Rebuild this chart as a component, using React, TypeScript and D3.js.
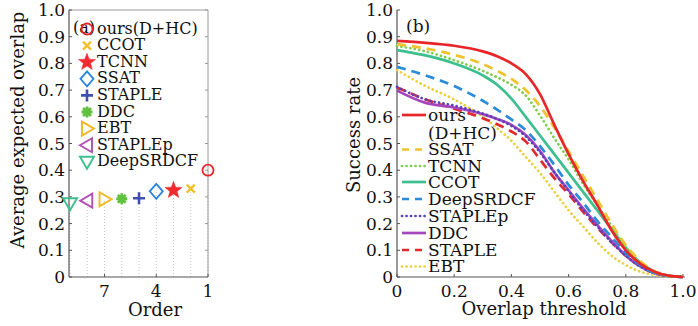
import React from "react";
import * as d3 from "d3";

// ---------- Data ----------
const trackersA = ["ours(D+HC)", "CCOT", "TCNN", "SSAT", "STAPLE", "DDC", "EBT", "STAPLEp", "DeepSRDCF"];
const ordersA = [1, 2, 3, 4, 5, 6, 7, 8, 9];
const eaoA = [0.40, 0.331, 0.325, 0.321, 0.295, 0.293, 0.291, 0.286, 0.276];
const markerA = ["circle", "x", "star", "diamond", "plus", "asterisk", "triR", "triL", "triD"];
const colorA = ["#e8262a", "#f0c028", "#f02a2e", "#2a84dc", "#3f4fb0", "#5fc23e", "#f2b822", "#b24fb4", "#3fc08e"];

const yTicks = [0, 0.1, 0.2, 0.3, 0.4, 0.5, 0.6, 0.7, 0.8, 0.9, 1.0];
const yTickLabels = ["0", "0.1", "0.2", "0.3", "0.4", "0.5", "0.6", "0.7", "0.8", "0.9", "1.0"];
const orderTicks = [7, 4, 1];
const xTicksB = [0, 0.2, 0.4, 0.6, 0.8, 1.0];
const xTickLabelsB = ["0", "0.2", "0.4", "0.6", "0.8", "1.0"];

const thresholds = [0, 0.1, 0.2, 0.3, 0.35, 0.4, 0.45, 0.5, 0.55, 0.6, 0.65, 0.7, 0.75, 0.8, 0.85, 0.9, 0.95, 1.0];
const oursS = [0.884, 0.877, 0.866, 0.845, 0.827, 0.80, 0.76, 0.685, 0.57, 0.46, 0.36, 0.27, 0.175, 0.10, 0.05, 0.02, 0.005, 0];
const ssatS = [0.872, 0.856, 0.832, 0.797, 0.772, 0.742, 0.70, 0.64, 0.56, 0.47, 0.38, 0.29, 0.20, 0.12, 0.06, 0.022, 0.005, 0];
const tcnnS = [0.865, 0.845, 0.812, 0.772, 0.748, 0.72, 0.68, 0.605, 0.52, 0.44, 0.35, 0.27, 0.19, 0.112, 0.055, 0.02, 0.005, 0];
const ccotS = [0.85, 0.83, 0.80, 0.755, 0.72, 0.668, 0.60, 0.53, 0.46, 0.39, 0.32, 0.25, 0.18, 0.11, 0.055, 0.02, 0.005, 0];
const deepS = [0.787, 0.755, 0.715, 0.66, 0.627, 0.59, 0.55, 0.49, 0.42, 0.345, 0.28, 0.21, 0.15, 0.09, 0.045, 0.015, 0.004, 0];
const staplepS = [0.712, 0.665, 0.642, 0.612, 0.592, 0.566, 0.527, 0.467, 0.392, 0.322, 0.252, 0.19, 0.13, 0.08, 0.04, 0.015, 0.004, 0];
const ddcS = [0.698, 0.652, 0.635, 0.61, 0.592, 0.57, 0.532, 0.472, 0.392, 0.325, 0.258, 0.195, 0.135, 0.08, 0.04, 0.015, 0.004, 0];
const stapleS = [0.71, 0.665, 0.63, 0.595, 0.572, 0.545, 0.508, 0.44, 0.37, 0.31, 0.245, 0.185, 0.13, 0.08, 0.04, 0.015, 0.004, 0];
const ebtS = [0.775, 0.715, 0.665, 0.60, 0.557, 0.51, 0.45, 0.39, 0.32, 0.25, 0.19, 0.13, 0.08, 0.045, 0.02, 0.008, 0.002, 0];

const seriesValuesB = [oursS, ssatS, tcnnS, ccotS, deepS, staplepS, ddcS, stapleS, ebtS];
const seriesColorB = ["#e8262a", "#f0c22e", "#7ccf48", "#3dbf8f", "#2a8bd9", "#5a3fb8", "#a447bf", "#e02a2e", "#e9d03e"];
const seriesStyleB = ["solid", "dash", "dot", "solid", "dash", "dot", "solid", "dash", "dot"];

const FONT = "'DejaVu Serif', serif";

function markerPath(type: string): { d: string; fill: boolean; sw: number } {
  switch (type) {
    case "circle": {
      const p = d3.path();
      p.arc(0, 0, 5.5, 0, Math.PI * 2);
      return { d: p.toString(), fill: false, sw: 1.8 };
    }
    case "x":
      return { d: "M-4,-4L4,4M-4,4L4,-4", fill: false, sw: 2.2 };
    case "star": {
      const pts: string[] = [];
      for (let i = 0; i < 10; i++) {
        const r = i % 2 === 0 ? 9 : 3.8;
        const a = -Math.PI / 2 + (i * Math.PI) / 5;
        pts.push(`${(r * Math.cos(a)).toFixed(2)},${(r * Math.sin(a)).toFixed(2)}`);
      }
      return { d: "M" + pts.join("L") + "Z", fill: true, sw: 0.5 };
    }
    case "diamond":
      return { d: "M0,-7.5L6.5,0L0,7.5L-6.5,0Z", fill: false, sw: 1.8 };
    case "plus":
      return { d: "M-6,0L6,0M0,-6L0,6", fill: false, sw: 2.6 };
    case "asterisk": {
      let d = "";
      for (let i = 0; i < 4; i++) {
        const a = (i * Math.PI) / 4;
        d += `M${(-5.5 * Math.cos(a)).toFixed(2)},${(-5.5 * Math.sin(a)).toFixed(2)}L${(5.5 * Math.cos(a)).toFixed(2)},${(5.5 * Math.sin(a)).toFixed(2)}`;
      }
      return { d, fill: false, sw: 2.8 };
    }
    case "triR":
      return { d: "M-5,-7L7,0L-5,7Z", fill: false, sw: 1.9 };
    case "triL":
      return { d: "M5,-7L-7,0L5,7Z", fill: false, sw: 1.9 };
    case "triD":
      return { d: "M-7,-5L7,-5L0,7Z", fill: false, sw: 1.9 };
  }
  return { d: "", fill: false, sw: 1 };
}

function Marker({ type, color, x, y }: { type: string; color: string; x: number; y: number }) {
  const m = markerPath(type);
  return (
    <path
      d={m.d}
      transform={`translate(${x},${y})`}
      fill={m.fill ? color : "none"}
      stroke={color}
      strokeWidth={m.sw}
      strokeLinejoin="miter"
    />
  );
}

function strokeProps(style: string, color: string, legend = false) {
  if (style === "dot")
    return { stroke: color, strokeWidth: 2.7, strokeDasharray: "0.1,4.4", strokeLinecap: "round" as const };
  if (style === "dash")
    return { stroke: color, strokeWidth: 2.7, strokeDasharray: legend ? "7,6" : "9,6", strokeLinecap: "butt" as const };
  return { stroke: color, strokeWidth: 2.7, strokeLinecap: "butt" as const };
}

export default function App() {
  const W = 698, H = 326;
  const yTop = 10, yBot = 277;
  const y = d3.scaleLinear().domain([0, 1]).range([yBot, yTop]);

  // Panel A
  const axL = 69, axR = 208;
  const xA = d3.scaleLinear().domain([9.06, 1]).range([axL, axR]);

  // Panel B
  const bxL = 397, bxR = 683;
  const xB = d3.scaleLinear().domain([0, 1]).range([bxL, bxR]);
  const line = d3
    .line<number>()
    .x((_, i) => xB(thresholds[i]))
    .y((v) => y(v))
    .curve(d3.curveMonotoneX);

  const tickFont = 17;
  const axisColor = "#555";

  const legendBRows = [
    { name: "ours", idx: 0, yc: 115 },
    { name: "(D+HC)", idx: -1, yc: 133 },
    { name: "SSAT", idx: 1, yc: 149.5 },
    { name: "TCNN", idx: 2, yc: 166 },
    { name: "CCOT", idx: 3, yc: 182 },
    { name: "DeepSRDCF", idx: 4, yc: 199 },
    { name: "STAPLEp", idx: 5, yc: 216 },
    { name: "DDC", idx: 6, yc: 233 },
    { name: "STAPLE", idx: 7, yc: 250 },
    { name: "EBT", idx: 8, yc: 266.5 },
  ];

  return (
    <svg
      width={W}
      height={H}
      style={{ position: "absolute", left: 0, top: 0, background: "#fff" }}
      fontFamily={FONT}
    >
      <rect x={0} y={0} width={W} height={H} fill="#fff" />

      {/* ================= Panel A ================= */}
      {ordersA.map((o, i) => (
        <line
          key={"stem" + i}
          x1={xA(o)}
          x2={xA(o)}
          y1={y(0)}
          y2={y(eaoA[i])}
          stroke="#c8c8c8"
          strokeWidth={1}
          strokeDasharray="1,2"
        />
      ))}
      <line x1={axL} x2={axR} y1={yTop} y2={yTop} stroke="#9a9a9a" strokeWidth={1} />
      <line x1={axR} x2={axR} y1={yTop} y2={yBot} stroke="#9a9a9a" strokeWidth={1} />
      <line x1={axL} x2={axL} y1={yTop} y2={yBot} stroke={axisColor} strokeWidth={1.2} />
      <line x1={axL} x2={axR} y1={yBot} y2={yBot} stroke={axisColor} strokeWidth={1.2} />
      {yTicks.map((t, i) => (
        <g key={"ya" + i}>
          <line x1={axL} x2={axL + 3} y1={y(t)} y2={y(t)} stroke={axisColor} />
          <line x1={axR} x2={axR - 3} y1={y(t)} y2={y(t)} stroke="#9a9a9a" />
          <text x={axL - 4} y={y(t) + 6} textAnchor="end" fontSize={tickFont} fill="#111">
            {yTickLabels[i]}
          </text>
        </g>
      ))}
      {orderTicks.map((o) => (
        <g key={"xa" + o}>
          <line x1={xA(o)} x2={xA(o)} y1={yBot} y2={yBot - 3} stroke={axisColor} />
          <text x={xA(o)} y={297} textAnchor="middle" fontSize={tickFont} fill="#111">
            {o}
          </text>
        </g>
      ))}
      <text x={155} y={316} textAnchor="middle" fontSize={18} fill="#111">
        Order
      </text>
      <text transform={`translate(24,${130}) rotate(-90)`} textAnchor="middle" fontSize={18} fill="#111">
        Average expected overlap
      </text>

      {ordersA.map((o, i) => (
        <Marker key={"pt" + i} type={markerA[i]} color={colorA[i]} x={xA(o)} y={y(eaoA[i])} />
      ))}

      <text x={73} y={33} fontSize={16} fill="#111">
        (a)
      </text>
      {trackersA.map((n, i) => {
        const base = 33.5 + i * 16.6;
        return (
          <g key={"la" + i}>
            <Marker type={markerA[i]} color={colorA[i]} x={87} y={base - 4.5} />
            <text x={97} y={base} fontSize={16} fill="#111">
              {n}
            </text>
          </g>
        );
      })}

      {/* ================= Panel B ================= */}
      <line x1={bxL} x2={bxL} y1={yTop} y2={yBot} stroke={axisColor} strokeWidth={1.2} />
      <line x1={bxL} x2={bxR + 2} y1={yBot} y2={yBot} stroke={axisColor} strokeWidth={1.2} />
      {yTicks.map((t, i) => (
        <g key={"yb" + i}>
          <line x1={bxL} x2={bxL + 3} y1={y(t)} y2={y(t)} stroke={axisColor} />
          <text x={bxL - 4} y={y(t) + 6} textAnchor="end" fontSize={tickFont} fill="#111">
            {yTickLabels[i]}
          </text>
        </g>
      ))}
      {xTicksB.map((t, i) => (
        <g key={"xb" + i}>
          <line x1={xB(t)} x2={xB(t)} y1={yBot} y2={yBot - 3} stroke={axisColor} />
          <text x={xB(t)} y={297} textAnchor="middle" fontSize={tickFont} fill="#111">
            {xTickLabelsB[i]}
          </text>
        </g>
      ))}
      <text x={544} y={315} textAnchor="middle" fontSize={18} fill="#111">
        Overlap threshold
      </text>
      <text transform={`translate(360,${135}) rotate(-90)`} textAnchor="middle" fontSize={18} fill="#111">
        Success rate
      </text>

      {seriesValuesB
        .map((vals, i) => ({ vals, i }))
        .reverse()
        .map(({ vals, i }) => (
          <path key={"c" + i} d={line(vals) || ""} fill="none" {...strokeProps(seriesStyleB[i], seriesColorB[i])} />
        ))}

      <text x={406} y={32} fontSize={17} fill="#111">
        (b)
      </text>

      {legendBRows.map((r, k) => (
        <g key={"lb" + k}>
          {r.idx >= 0 && (
            <line
              x1={402}
              x2={426}
              y1={r.yc}
              y2={r.yc}
              {...strokeProps(seriesStyleB[r.idx], seriesColorB[r.idx], true)}
            />
          )}
          <text x={428} y={r.yc + 5.5} fontSize={17} fill="#111">
            {r.name}
          </text>
        </g>
      ))}
    </svg>
  );
}
